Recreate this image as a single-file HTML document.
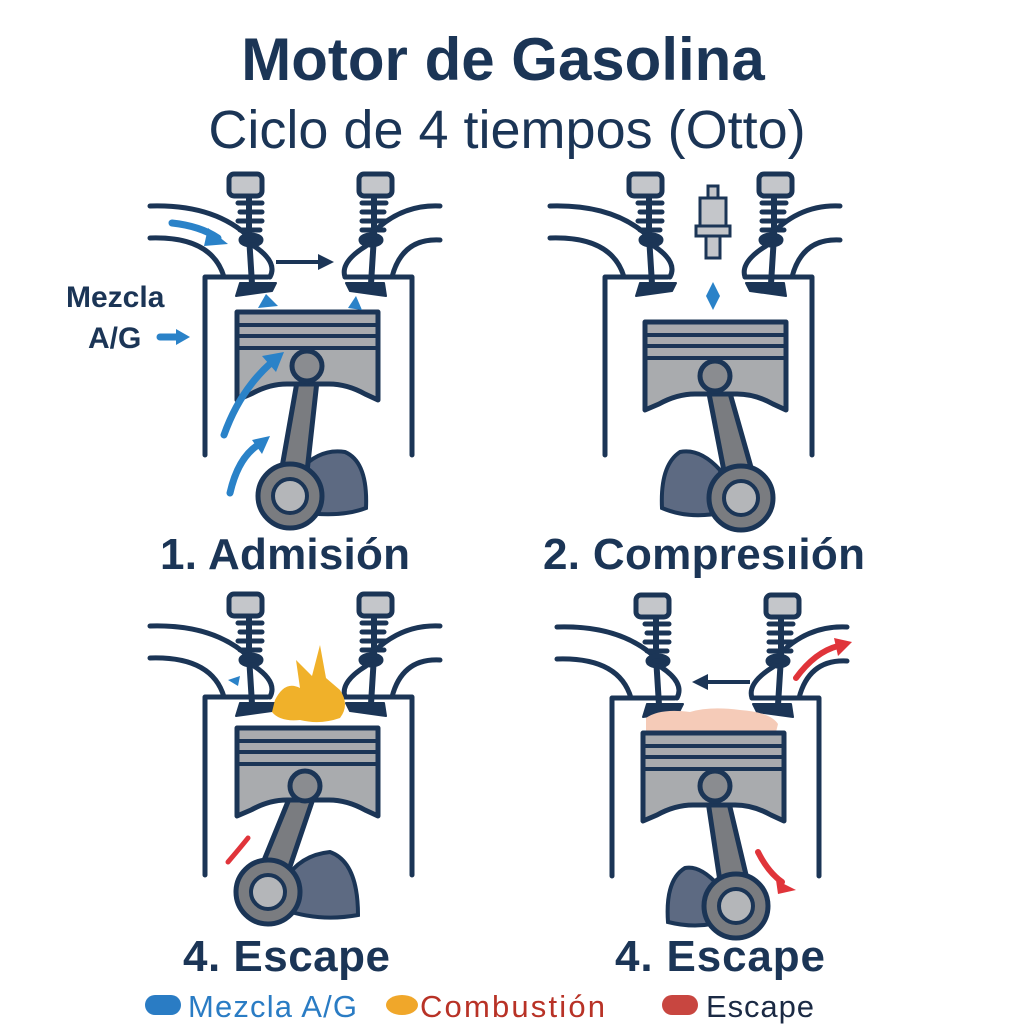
<!DOCTYPE html>
<html><head><meta charset="utf-8"><style>
body{margin:0;background:#fff;}
svg{display:block;}
text{font-family:"Liberation Sans","DejaVu Sans",sans-serif;}
</style></head><body>
<svg width="1024" height="1024" viewBox="0 0 1024 1024" xmlns="http://www.w3.org/2000/svg">
<defs>
<g id="head" fill="none" stroke="#1b3556" stroke-width="5" stroke-linecap="round" stroke-linejoin="round">
  <path d="M205,455 V277 H268 M345,277 H412 V455"/>
  <path d="M150,206 Q215,204 250,238"/>
  <path d="M150,238 Q212,236 224,277"/>
  <path d="M254,246 Q278,262 270,277"/>
  <path d="M440,206 Q398,204 368,238"/>
  <path d="M440,240 Q402,238 392,277"/>
  <path d="M366,246 Q340,262 345,277"/>
  <rect x="229" y="174" width="33" height="22" rx="5" fill="#c4c6ca"/>
  <rect x="359" y="174" width="33" height="22" rx="5" fill="#c4c6ca"/>
  <path d="M238,203H262 M240,212H262 M238,221H262 M240,230H260"/>
  <path d="M362,203H386 M362,212H384 M362,221H386 M362,230H384"/>
  <path d="M249,198 V236 L252,284 M374,198 V236 L371,284" stroke-width="6"/>
  <ellipse cx="251" cy="240" rx="10" ry="5" fill="#1b3556"/>
  <ellipse cx="371" cy="240" rx="10" ry="5" fill="#1b3556"/>
  <path d="M240,283 H276 L272,291 L236,296 Z" fill="#1b3556" stroke-width="2"/>
  <path d="M346,283 H384 L386,296 L350,291 Z" fill="#1b3556" stroke-width="2"/>
</g>
<g id="piston">
  <path d="M0,0 H141 V88 L128,82 Q110,72 92,72 H50 Q32,72 14,82 L0,88 Z" fill="#a9abae" stroke="#1b3556" stroke-width="5" stroke-linejoin="round"/>
  <path d="M0,13 H141 M0,24 H141 M0,36 H141" stroke="#1b3556" stroke-width="4"/>
</g>
</defs>

<text x="503" y="80" text-anchor="middle" font-size="60" font-weight="bold" fill="#1b3556">Motor de Gasolina</text>
<text x="507" y="148" text-anchor="middle" font-size="54" fill="#1b3556">Ciclo de 4 tiempos (Otto)</text>

<!-- Panel 1 -->
<use href="#head"/>
<path d="M300,470 Q320,448 345,452 Q368,462 366,508 Q340,518 300,512 Z" fill="#5d6a82" stroke="#1b3556" stroke-width="4"/>
<path d="M300,365 L318,372 L305,490 L278,490 Z" fill="#7a7c80" stroke="#1b3556" stroke-width="5" stroke-linejoin="round"/>
<use href="#piston" x="237" y="312"/>
<circle cx="307" cy="366" r="15" fill="#8a8c90" stroke="#1b3556" stroke-width="5"/>
<circle cx="290" cy="496" r="32" fill="#7a7c80" stroke="#1b3556" stroke-width="5"/>
<circle cx="290" cy="496" r="17" fill="#b4b6b9" stroke="#1b3556" stroke-width="4"/>
<path d="M276,262 H322" stroke="#1b3556" stroke-width="4"/>
<path d="M318,254 L334,262 L318,270 Z" fill="#1b3556"/>
<g fill="none" stroke="#2a82c8" stroke-width="7" stroke-linecap="round">
  <path d="M172,223 Q200,226 218,238"/>
  <path d="M224,435 Q240,390 272,362"/>
  <path d="M230,493 Q238,458 258,445"/>
  <path d="M160,337 H178"/>
</g>
<g fill="#2a82c8">
  <path d="M208,228 L228,244 L204,246 Z"/>
  <path d="M262,356 L284,352 L276,372 Z"/>
  <path d="M252,440 L270,436 L262,454 Z"/>
  <path d="M176,329 L190,337 L176,345 Z"/>
  <path d="M258,308 L266,294 L278,306 Z"/>
  <path d="M348,308 L356,296 L362,310 Z"/>
</g>
<text x="66" y="307" font-size="30" font-weight="bold" fill="#1b3556">Mezcla</text>
<text x="88" y="348" font-size="30" font-weight="bold" fill="#1b3556">A/G</text>
<text x="160" y="569" font-size="44" font-weight="bold" fill="#1b3556" textLength="250">1. Admisión</text>

<!-- Panel 2 -->
<use href="#head" x="400"/>
<path d="M720,470 Q700,448 680,452 Q660,465 662,508 Q690,520 725,512 Z" fill="#5d6a82" stroke="#1b3556" stroke-width="4"/>
<path d="M706,378 L724,372 L758,492 L730,502 Z" fill="#7a7c80" stroke="#1b3556" stroke-width="5" stroke-linejoin="round"/>
<use href="#piston" x="645" y="322"/>
<circle cx="715" cy="376" r="15" fill="#8a8c90" stroke="#1b3556" stroke-width="5"/>
<circle cx="741" cy="498" r="32" fill="#7a7c80" stroke="#1b3556" stroke-width="5"/>
<circle cx="741" cy="498" r="17" fill="#b4b6b9" stroke="#1b3556" stroke-width="4"/>
<rect x="708" y="186" width="10" height="14" fill="#c4c6ca" stroke="#1b3556" stroke-width="3"/>
<rect x="700" y="198" width="26" height="28" fill="#c4c6ca" stroke="#1b3556" stroke-width="3"/>
<rect x="696" y="226" width="34" height="10" fill="#c4c6ca" stroke="#1b3556" stroke-width="3"/>
<rect x="706" y="236" width="14" height="22" fill="#c4c6ca" stroke="#1b3556" stroke-width="3"/>
<path d="M713,282 L720,296 L713,310 L706,296 Z" fill="#2a82c8"/>
<text x="543" y="569" font-size="44" font-weight="bold" fill="#1b3556" textLength="322">2. Compresıión</text>

<!-- Panel 3 -->
<use href="#head" y="420"/>
<path d="M285,880 Q300,855 330,852 Q358,862 358,915 Q320,922 285,910 Z" fill="#5d6a82" stroke="#1b3556" stroke-width="4"/>
<path d="M296,782 L316,790 L282,890 L256,880 Z" fill="#7a7c80" stroke="#1b3556" stroke-width="5" stroke-linejoin="round"/>
<use href="#piston" x="237" y="728"/>
<circle cx="305" cy="786" r="15" fill="#8a8c90" stroke="#1b3556" stroke-width="5"/>
<circle cx="268" cy="892" r="32" fill="#7a7c80" stroke="#1b3556" stroke-width="5"/>
<circle cx="268" cy="892" r="17" fill="#b4b6b9" stroke="#1b3556" stroke-width="4"/>
<path d="M275,700 Q285,680 300,688 L296,660 L312,676 L320,645 L326,678 L340,690 Q350,705 340,718 Q320,725 300,720 Q280,722 272,712 Z" fill="#f0b12a"/>
<path d="M228,680 L240,676 L238,686 Z" fill="#2a82c8"/>
<path d="M228,862 Q240,848 248,838" stroke="#e0343a" stroke-width="5" fill="none" stroke-linecap="round"/>
<text x="183" y="971" font-size="44" font-weight="bold" fill="#1b3556" textLength="207">4. Escape</text>

<!-- Panel 4 -->
<use href="#head" x="407" y="421"/>
<path d="M718,885 Q700,865 685,868 Q665,880 668,922 Q700,930 725,920 Z" fill="#5d6a82" stroke="#1b3556" stroke-width="4"/>
<path d="M706,788 L724,782 L752,900 L724,908 Z" fill="#7a7c80" stroke="#1b3556" stroke-width="5" stroke-linejoin="round"/>
<path d="M646,718 Q660,708 690,712 Q710,706 740,710 Q770,712 778,724 L776,732 H646 Z" fill="#f5cbb8"/>
<use href="#piston" x="643" y="733"/>
<circle cx="715" cy="786" r="15" fill="#8a8c90" stroke="#1b3556" stroke-width="5"/>
<circle cx="736" cy="906" r="32" fill="#7a7c80" stroke="#1b3556" stroke-width="5"/>
<circle cx="736" cy="906" r="17" fill="#b4b6b9" stroke="#1b3556" stroke-width="4"/>
<path d="M750,682 H704" stroke="#1b3556" stroke-width="4"/>
<path d="M708,674 L692,682 L708,690 Z" fill="#1b3556"/>
<g fill="none" stroke="#e0343a" stroke-width="6" stroke-linecap="round">
  <path d="M796,678 Q815,652 838,646"/>
  <path d="M758,852 Q768,872 782,882"/>
</g>
<g fill="#e0343a">
  <path d="M834,638 L852,642 L838,656 Z"/>
  <path d="M776,880 L796,890 L778,894 Z"/>
</g>
<text x="615" y="971" font-size="44" font-weight="bold" fill="#1b3556" textLength="210">4. Escape</text>

<!-- Legend -->
<rect x="145" y="995" width="36" height="20" rx="10" fill="#2a7cc4"/>
<text x="188" y="1017" font-size="31" fill="#2a7cc4" textLength="169">Mezcla A/G</text>
<ellipse cx="402" cy="1005" rx="16" ry="10" fill="#f0a72a"/>
<text x="420" y="1017" font-size="31" fill="#b83226" textLength="185">Combustión</text>
<rect x="662" y="995" width="36" height="20" rx="10" fill="#c84640"/>
<text x="706" y="1017" font-size="31" fill="#1b2a44" textLength="108">Escape</text>
</svg>
</body></html>
